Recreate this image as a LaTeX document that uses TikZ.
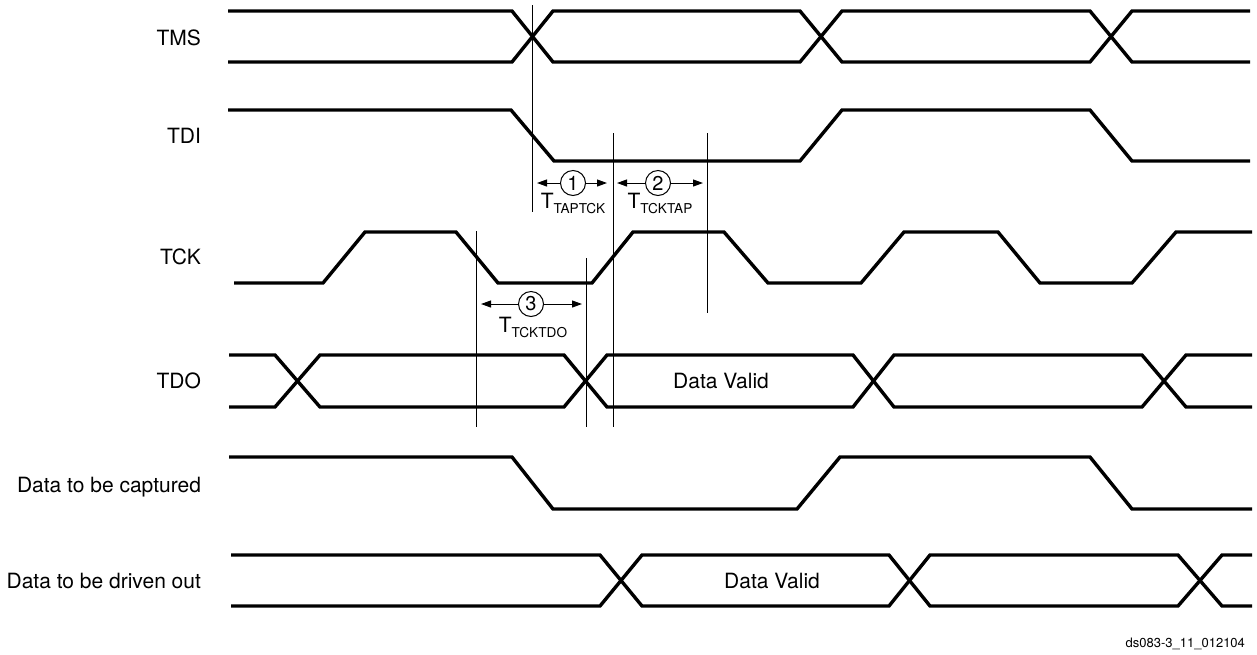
\documentclass[tikz,border=0pt]{standalone}
\usepackage{fontspec}
\setmainfont{TeX Gyre Heros}
\usetikzlibrary{arrows.meta}
\tikzset{
  wave/.style={line width=1.7pt, line join=miter},
  marker/.style={line width=0.5pt},
  num/.style={circle, draw, line width=0.5pt, inner sep=0pt, minimum size=12.5pt, font=\fontsize{10}{10}\selectfont},
  dim/.style={line width=0.5pt, -{Triangle[length=5pt,width=3.5pt]}},
  sig/.style={anchor=base east, font=\fontsize{10.5}{12}\selectfont},
  txt/.style={anchor=base, font=\fontsize{10.5}{12}\selectfont},
}
\newcommand{\tlabel}[1]{T\raisebox{-2.5pt}{\fontsize{6.8}{7}\selectfont #1}}
\begin{document}
\begin{tikzpicture}[x=0.5pt,y=-0.5pt]
\useasboundingbox (0,0) rectangle (1257,654);
% signal names
\node[sig] (tms) at (208,45) {TMS};
\node[sig] (tdi) at (208,143) {TDI};
\node[sig] (tck) at (208,264) {TCK};
\node[sig] (tdo) at (208,388) {TDO};
\node[sig] (cap) at (208,492) {Data to be captured};
\node[sig] (drv) at (208,588) {Data to be driven out};
%
% TMS
\draw[wave] (228,11) -- (512,11) -- (553,62) -- (800,62) -- (842,11) -- (1090,11) -- (1132,62) -- (1250,62);
\draw[wave] (228,62) -- (512,62) -- (553,11) -- (800,11) -- (842,62) -- (1090,62) -- (1132,11) -- (1250,11);
% TDI
\draw[wave] (228,110) -- (511,110) -- (554,161) -- (800,161) -- (842,110) -- (1090,110) -- (1132,161) -- (1250,161);
% TCK
\draw[wave] (234,283) -- (323,283) -- (365,232) -- (456,232) -- (498,283) -- (592,283) -- (633,232)
	-- (724,232) -- (768,283) -- (861,283) -- (904,232) -- (998,232) -- (1040,283) -- (1132,283) -- (1176,232) -- (1252,232);
% TDO
\draw[wave] (229,355) -- (275,355) -- (320,407) -- (564,407) -- (607,355) -- (853,355) -- (894,407) -- (1142,407) -- (1186,355) -- (1252,355);
\draw[wave] (229,407) -- (275,407) -- (320,355) -- (564,355) -- (607,407) -- (853,407) -- (894,355) -- (1142,355) -- (1186,407) -- (1252,407);
\node[txt] (tdoval) at (721,388) {Data Valid};
% data to be captured
\draw[wave] (229,457) -- (512,457) -- (553,509) -- (797,509) -- (840,457) -- (1090,457) -- (1132,509) -- (1252,509);
% data to be driven out
\draw[wave] (231,555) -- (600,555) -- (642,606) -- (889,606) -- (930,555) -- (1178,555) -- (1222,606) -- (1252,606);
\draw[wave] (231,606) -- (600,606) -- (642,555) -- (889,555) -- (930,606) -- (1178,606) -- (1222,555) -- (1252,555);
\node[txt] (drvval) at (772,588) {Data Valid};
%
% timing markers
\coordinate (v1a) at (532,5);   \coordinate (v1b) at (532,212);
\coordinate (v2a) at (613,133); \coordinate (v2b) at (613,427);
\coordinate (v3a) at (707,133); \coordinate (v3b) at (707,313);
\coordinate (v4a) at (476,231); \coordinate (v4b) at (476,427);
\coordinate (v5a) at (586,258); \coordinate (v5b) at (586,427);
\draw[marker] (v1a) -- (v1b);
\draw[marker] (v2a) -- (v2b);
\draw[marker] (v3a) -- (v3b);
\draw[marker] (v4a) -- (v4b);
\draw[marker] (v5a) -- (v5b);
%
% intervals
\node[num] (n1) at (573,183) {1};
\coordinate (t1l) at (537,183); \coordinate (t1r) at (607,183);
\draw[dim] (n1) -- (t1l);
\draw[dim] (n1) -- (t1r);
\node[txt] (l1) at (573,208) {\tlabel{TAPTCK}};
%
\node[num] (n2) at (658,183) {2};
\coordinate (t2l) at (617,183); \coordinate (t2r) at (703,183);
\draw[dim] (n2) -- (t2l);
\draw[dim] (n2) -- (t2r);
\node[txt] (l2) at (660,208) {\tlabel{TCKTAP}};
%
\node[num] (n3) at (531,304) {3};
\coordinate (t3l) at (481,304); \coordinate (t3r) at (582,304);
\draw[dim] (n3) -- (t3l);
\draw[dim] (n3) -- (t3r);
\node[txt] (l3) at (533,332) {\tlabel{TCKTDO}};
%
\node[anchor=base east, font=\fontsize{6.5}{7}\selectfont] (ref) at (1252,647) {ds083-3\_11\_012104};
\end{tikzpicture}
\end{document}
